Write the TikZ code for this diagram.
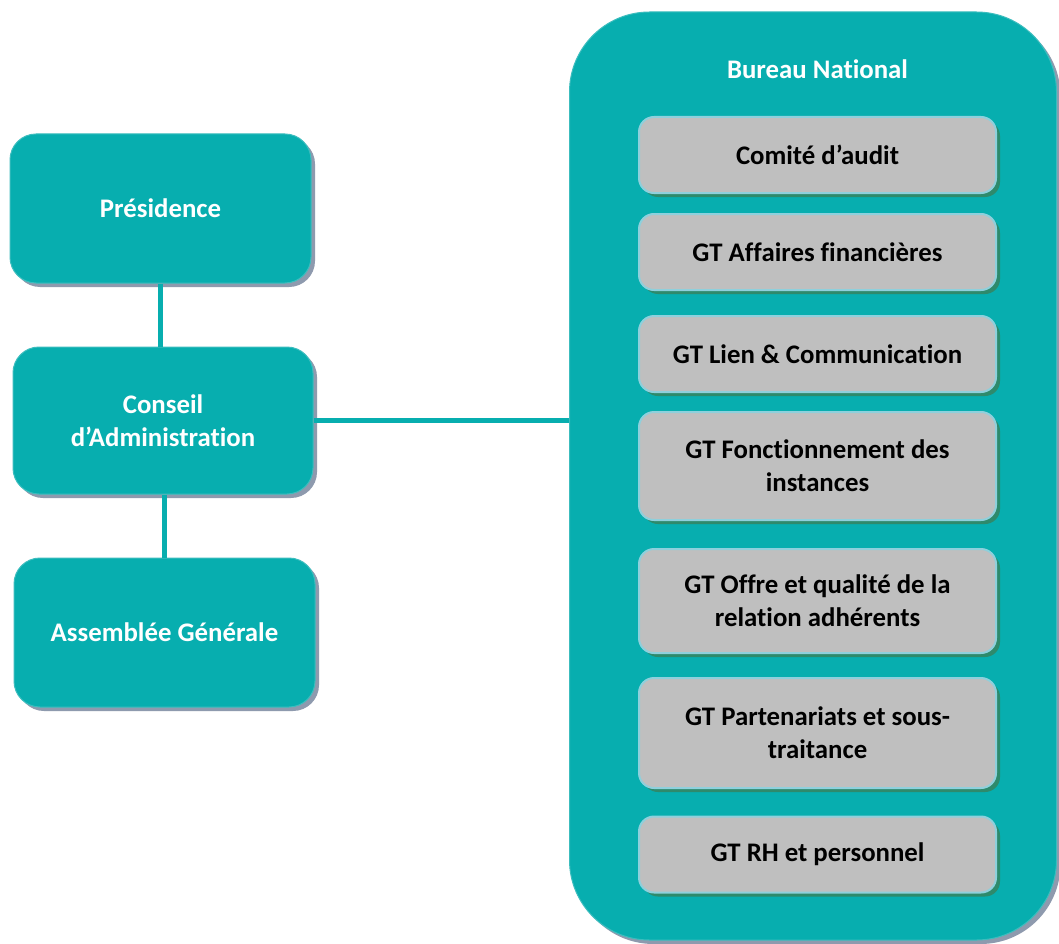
\documentclass[tikz,border=0pt]{standalone}
\usepackage{fontspec}
\setmainfont[Ligatures=NoCommon]{Carlito}
\usetikzlibrary{shadows}
\definecolor{teal1}{HTML}{07AEAF}
\definecolor{tealedge}{HTML}{3CBDBE}
\definecolor{tshadow}{HTML}{8E9AAE}
\definecolor{gfill}{HTML}{BFBFBF}
\definecolor{gedge}{HTML}{8ED0DC}
\definecolor{gshadow}{HTML}{2E8A6C}
\begin{document}
\begin{tikzpicture}[x=1pt,y=-1pt,
  every node/.style={font=\fontsize{26.8}{33}\selectfont\bfseries, align=center, inner sep=0pt},
  tealbox/.style={rectangle, rounded corners=26pt, fill=teal1, draw=tealedge, line width=1pt,
    text=white, drop shadow={shadow xshift=4pt, shadow yshift=-4pt, fill=tshadow, opacity=1}},
  bigbox/.style={rectangle, rounded corners=80pt, fill=teal1, draw=tealedge, line width=1pt,
    drop shadow={shadow xshift=4pt, shadow yshift=-4pt, fill=tshadow, opacity=1}},
  greybox/.style={rectangle, rounded corners=15pt, fill=gfill, draw=gedge, line width=2pt,
    text=black, minimum width=357pt,
    drop shadow={shadow xshift=4pt, shadow yshift=-4pt, fill=gshadow, opacity=1}},
  link/.style={draw=teal1, line width=5pt}
]
\useasboundingbox (0,0) rectangle (1059,944);
\fill[white] (0,0) rectangle (1059,944);

% left column
\node[tealbox, minimum width=301pt, minimum height=149pt] (pres) at (160.5,208.5) {Présidence};
\node[tealbox, minimum width=300pt, minimum height=147pt] (ca) at (163,420.5) {Conseil\\d’Administration};
\node[tealbox, minimum width=301pt, minimum height=149pt] (ag) at (164.5,632.5) {Assemblée Générale};

% bureau national
\node[bigbox, minimum width=487pt, minimum height=928pt] (bn) at (813,476) {};
\node[text=white] (bntitle) at (817.5,69) {Bureau National};

\node[greybox, minimum height=76pt] (g1) at (817.5,155) {Comité d’audit};
\node[greybox, minimum height=76pt] (g2) at (817.5,252) {GT Affaires financières};
\node[greybox, minimum height=76pt] (g3) at (817.5,354) {GT Lien \& Communication};
\node[greybox, minimum height=108pt] (g4) at (817.5,466) {GT Fonctionnement des\\instances};
\node[greybox, minimum height=104pt] (g5) at (817.5,601) {GT Offre et qualité de la\\relation adhérents};
\node[greybox, minimum height=110pt] (g6) at (817.5,733) {GT Partenariats et sous-\\traitance};
\node[greybox, minimum height=76pt] (g7) at (817.5,854.5) {GT RH et personnel};

% connectors
\draw[link] (pres.south) -- (pres.south |- ca.north);
\draw[link] (ca.south -| ag.north) -- (ag.north);
\draw[link] (ca.east) -- (ca.east -| bn.west);
\end{tikzpicture}
\end{document}
